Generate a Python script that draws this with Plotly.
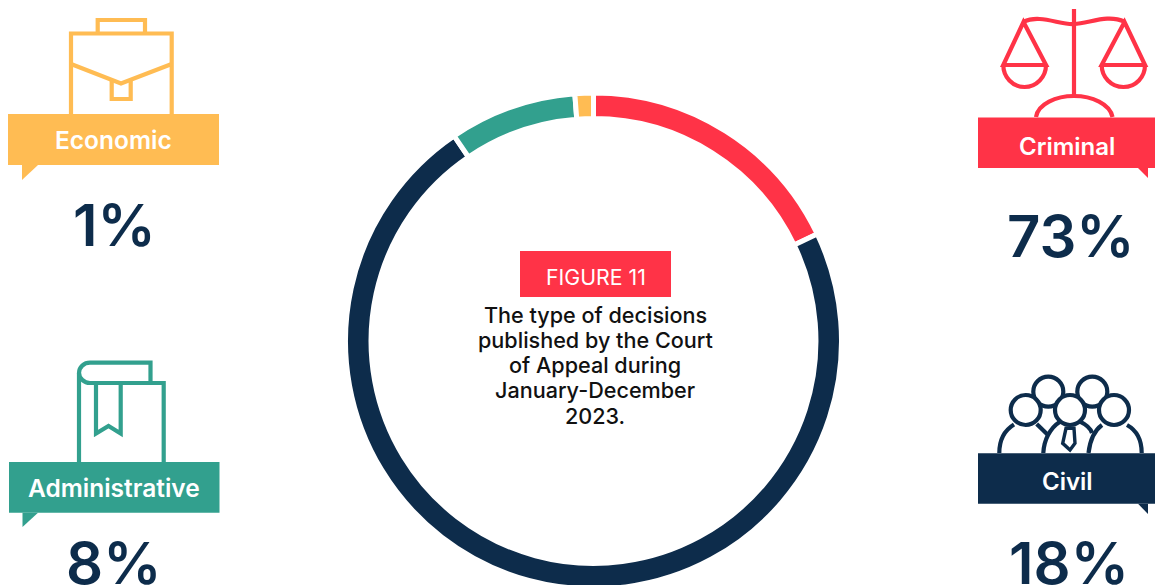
import plotly.graph_objects as go

# ---- data ----
categories = ["Criminal", "Civil", "Administrative", "Economic"]
callout_percent = ["73%", "18%", "8%", "1%"]
# arc shares as drawn in the ring, clockwise from the top
arc_values = [17.9, 72.6, 8.3, 1.2]
arc_colors = ["#FF3347", "#0D2C4B", "#32A08E", "#FFBC53"]
title_tag = "FIGURE 11"
title_lines = ["The type of decisions", "published by the Court", "of Appeal during",
               "January-December", "2023."]

W, H = 1155, 600
FONT = "Inter"
RED, NAVY, GREEN, YELLOW = "#FF3347", "#0D2C4B", "#32A08E", "#FFBC53"

fig = go.Figure()
fig.add_trace(go.Scatter(x=[], y=[], showlegend=False, hoverinfo="skip"))
fig.add_trace(go.Pie(
    values=arc_values, labels=["Civil", "Criminal", "Administrative", "Economic"],
    sort=False, direction="clockwise", rotation=0, hole=0.897,
    marker=dict(colors=arc_colors, line=dict(color="white", width=5)),
    textinfo="none", showlegend=False, hoverinfo="skip",
    domain=dict(x=[345.5 / W, 841.5 / W], y=[(H - 589) / H, (H - 93) / H]),
))

shapes = []
STROKE = 4.2
def path(d, color, width=STROKE, fill=None):
    shapes.append(dict(type="path", path=d, xref="x", yref="y", layer="above",
                       line=dict(color=color, width=width),
                       fillcolor=fill or "rgba(0,0,0,0)"))
def circle(cx, cy, r, color, width=STROKE, fill="white"):
    shapes.append(dict(type="circle", xref="x", yref="y", layer="above",
                       x0=cx - r, x1=cx + r, y0=cy - r, y1=cy + r,
                       line=dict(color=color, width=width), fillcolor=fill))
def banner(x0, x1, y0, y1, tail, color):
    shapes.append(dict(type="rect", xref="x", yref="y", layer="above",
                       x0=x0, x1=x1, y0=y0, y1=y1, line=dict(width=0), fillcolor=color))
    shapes.append(dict(type="path", xref="x", yref="y", layer="above", path=tail,
                       line=dict(width=0), fillcolor=color))

# briefcase
path("M71,114 L71,33.5 L171.7,33.5 L171.7,114", YELLOW)
path("M97.7,33.5 L97.7,20 L145,20 L145,33.5", YELLOW)
path("M71,64 L121,83.5 L171.7,64", YELLOW)
path("M111.7,80 L111.7,99 L130.7,99 L130.7,80", YELLOW)
banner(8, 219, 114, 165, "M22,165 L22,180 L38,165 Z", YELLOW)

# scales
path("M1074,9 L1074,96", RED)
path("M1023.5,21.7 C1040,14 1060,25 1074,24 C1090,23 1108,14 1124.5,21.7", RED)
path("M1023.5,22 L1003.3,65 L1046,65 Z", RED)
path("M1124.5,22 L1101.7,65 L1145,65 Z", RED)
path("M1003.3,65 C1003.3,77 1012.5,87 1024.5,87 C1036.5,87 1046,77 1046,65", RED)
path("M1101.7,65 C1101.7,77 1111,87 1123.5,87 C1136,87 1145,77 1145,65", RED)
path("M1036,117 C1038,104 1056,96 1074,96 C1092,96 1110,104 1112.5,117", RED)
banner(978, 1155, 117.5, 168, "M1138,168 L1148,178 L1148,168 Z", RED)

# book
path("M163.7,462 L163.7,383 L90,383 C84,383 79,378 79,373 C79,367 84,362.7 90,362.7 "
     "L150.5,362.7 L150.5,383", GREEN)
path("M79,373 L79,462", GREEN)
path("M96,383 L96,433.5 L108.5,426 L120.7,433.5 L120.7,383", GREEN)
banner(9, 219.5, 462, 512.7, "M22.5,512.7 L22.5,527 L38,512.7 Z", GREEN)

# people
circle(1048.3, 391.7, 15, NAVY)
circle(1092.3, 391.7, 15, NAVY)
path("M999.3,453 C999.3,440 1005,430 1014,424.5", NAVY)
path("M1036.7,424 L1048,435", NAVY)
path("M1043.3,453 C1044,440 1050,428 1060,421.7", NAVY)
path("M1080,421.7 C1087,425 1091,430 1092,433", NAVY)
path("M1088.5,453 C1090,440 1095,430 1102,425", NAVY)
path("M1127,425 C1136,430 1141.7,440 1141.7,453", NAVY)
path("M1066,428.3 L1074,428.3 L1075,443.3 L1070,450 L1062.7,443.3 Z", NAVY, width=3.4)
circle(1025.7, 410, 15, NAVY)
circle(1070, 410, 15, NAVY)
circle(1114, 410, 15, NAVY)
banner(978, 1155, 453.3, 503.7, "M1138,503.7 L1148,514 L1148,503.7 Z", NAVY)

# central tag
shapes.append(dict(type="rect", xref="x", yref="y", layer="above", x0=520, x1=671, y0=251, y1=297,
                   line=dict(width=0), fillcolor=RED))

ann = []
def text(x, y, s, size, color, weight=400):
    ann.append(dict(x=x, y=y, xref="x", yref="y", text=s, showarrow=False,
                    xanchor="center", yanchor="middle",
                    font=dict(family=FONT, size=size, color=color, weight=weight)))

banner_pos = [(1067, 146), (1067, 481), (113.5, 488), (113.5, 140)]
banner_size = [24, 24, 24.5, 24.5]
value_pos = [(1071, 236), (1069, 563), (113, 563), (114, 225)]
for c, p, bp, bs, vp in zip(categories, callout_percent, banner_pos, banner_size, value_pos):
    text(bp[0], bp[1], c, bs, "white", 600)
    text(vp[0], vp[1], p, 58, NAVY, 600)

text(595.5, 277, title_tag, 21.3, "white")
for s, y in zip(title_lines, [315, 340, 365, 390, 416]):
    text(595, y, s, 21.6, "#111111", 500)

fig.update_layout(
    width=W, height=H, margin=dict(l=0, r=0, t=0, b=0),
    paper_bgcolor="white", plot_bgcolor="rgba(0,0,0,0)", showlegend=False,
    xaxis=dict(range=[0, W], visible=False, domain=[0, 1]),
    yaxis=dict(range=[H, 0], visible=False, domain=[0, 1]),
    shapes=shapes, annotations=ann,
)
fig.write_html("out.html", config=dict(displayModeBar=False),
               post_script="document.body.style.margin='0';document.body.style.overflow='hidden';"
                           "document.documentElement.style.overflow='hidden';")
